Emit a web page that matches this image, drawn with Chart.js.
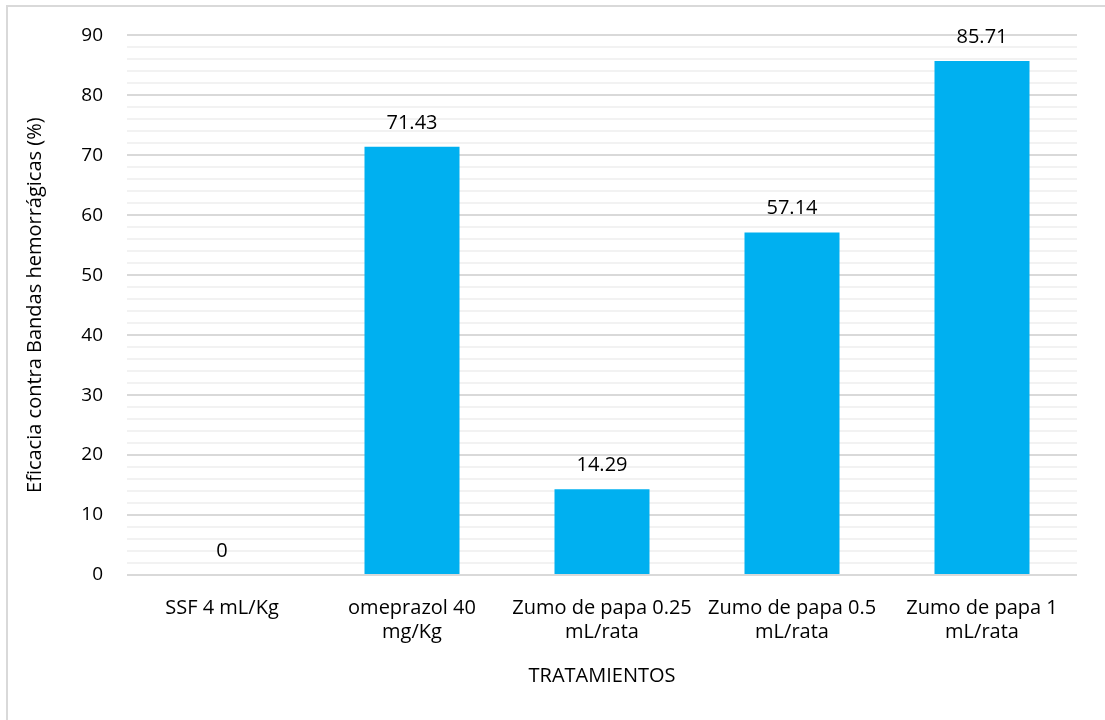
<!DOCTYPE html>
<html>
<head>
<meta charset="utf-8">
<script src="https://cdn.jsdelivr.net/npm/chart.js@4/dist/chart.umd.min.js"></script>
<style>
  body { margin: 0; background: #fff; }
  #marco { position: absolute; left: 6px; top: 5px; width: 1200px; height: 800px;
           border-left: 2px solid #d9d9d9; border-top: 2px solid #d9d9d9; }
  #contenedor { position: absolute; left: 0; top: 0; width: 1105px; height: 720px; }
</style>
</head>
<body>
<div id="marco"></div>
<div id="contenedor"><canvas id="grafico"></canvas></div>
<script>
const tratamientos = [
  ["SSF 4 mL/Kg"],
  ["omeprazol 40", "mg/Kg"],
  ["Zumo de papa 0.25", "mL/rata"],
  ["Zumo de papa 0.5", "mL/rata"],
  ["Zumo de papa 1", "mL/rata"]
];
const eficacia = [0, 71.43, 14.29, 57.14, 85.71];
const etiquetasValor = ["0", "71.43", "14.29", "57.14", "85.71"];

const fuente = "'Open Sans', 'Noto Sans', sans-serif";

// dibuja el valor encima de cada barra
const etiquetasBarras = {
  id: "etiquetasBarras",
  afterDatasetsDraw(chart) {
    const ctx = chart.ctx;
    const meta = chart.getDatasetMeta(0);
    ctx.save();
    ctx.font = "20px " + fuente;
    ctx.fillStyle = "#000";
    ctx.textAlign = "center";
    ctx.textBaseline = "alphabetic";
    meta.data.forEach((barra, i) => {
      ctx.fillText(etiquetasValor[i], barra.x, barra.y - 18);
    });
    ctx.restore();
  }
};

const grafico = document.getElementById("grafico");
new Chart(grafico, {
  type: "bar",
  data: {
    labels: tratamientos,
    datasets: [{
      label: "Eficacia",
      data: eficacia,
      backgroundColor: "#00b0f0",
      categoryPercentage: 1,
      barPercentage: 0.5
    }]
  },
  options: {
    responsive: true,
    maintainAspectRatio: false,
    animation: false,
    layout: { padding: { top: 34, right: 28, left: 0, bottom: 28 } },
    plugins: {
      legend: { display: false },
      tooltip: { enabled: false }
    },
    scales: {
      x: {
        grid: { display: false, drawTicks: false },
        border: { display: false },
        ticks: { color: "#000", font: { family: fuente, size: 20 }, maxRotation: 0, padding: 21 },
        title: { display: true, text: "TRATAMIENTOS", color: "#000", font: { family: fuente, size: 20 }, padding: { top: 4, bottom: 4 } },
        afterFit(scale) { scale.height = 117; }
      },
      y: {
        min: 0,
        max: 90,
        border: { display: false },
        grid: {
          drawTicks: false,
          lineWidth: 2,
          color: c => (c.tick && c.tick.value % 10 === 0) ? "#d9d9d9" : "#f2f2f2"
        },
        ticks: {
          stepSize: 2,
          autoSkip: false,
          color: "#000",
          padding: 24,
          font: { family: fuente, size: 19 },
          callback: v => (v % 10 === 0 ? v : "")
        },
        title: { display: true, text: "Eficacia contra Bandas hemorrágicas (%)", color: "#000", font: { family: fuente, size: 20 }, padding: { top: 23, bottom: 4 } },
        afterFit(scale) { scale.width = 127; }
      }
    }
  },
  plugins: [etiquetasBarras]
});
</script>
</body>
</html>
